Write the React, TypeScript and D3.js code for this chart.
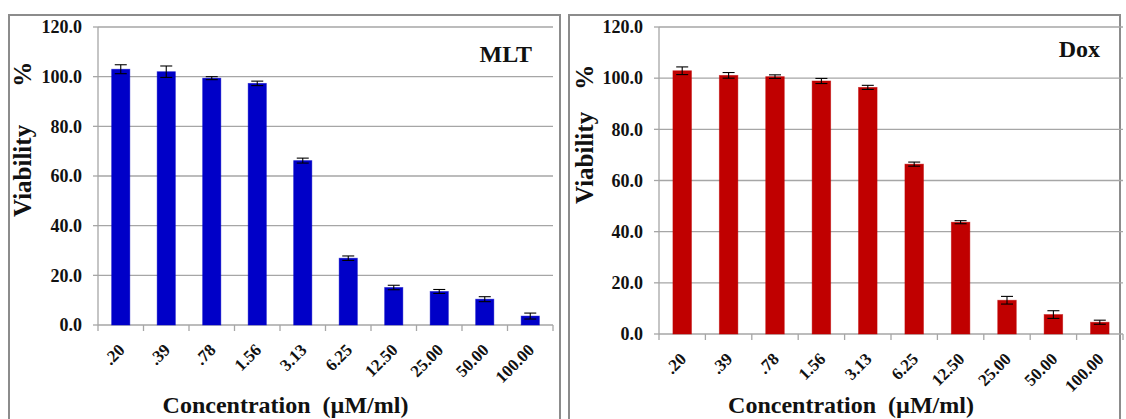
import React from "react";
import * as d3 from "d3";

const categories = [".20", ".39", ".78", "1.56", "3.13", "6.25", "12.50", "25.00", "50.00", "100.00"];
const mltValues = [103.0, 102.0, 99.4, 97.3, 66.2, 26.9, 15.1, 13.5, 10.4, 3.6];
const mltErrors = [1.8, 2.3, 0.6, 0.9, 1.0, 0.9, 0.9, 0.8, 1.0, 1.2];
const doxValues = [102.9, 101.1, 100.6, 98.9, 96.4, 66.4, 43.7, 13.2, 7.6, 4.6];
const doxErrors = [1.5, 1.1, 0.7, 1.0, 0.8, 0.8, 0.6, 1.5, 1.5, 0.8];
const yTicks = [0, 20, 40, 60, 80, 100, 120];

const FONT = "'Liberation Serif', 'Times New Roman', serif";
const GRID = "#a6a6a6";

type PanelProps = {
  values: number[];
  errors: number[];
  color: string;
  label: string;
  x0: number;
  x1: number;
  yZero: number;
  yTop: number;
  labelX: number;
  labelY: number;
  vTitleX: number;
  vTitleY: number;
  vGap: number;
  frameX: number;
};

function Panel(p: PanelProps) {
  const x = d3.scaleBand<string>().domain(categories).range([p.x0, p.x1]).paddingInner(0.6).paddingOuter(0.3);
  const band = d3.scaleBand<string>().domain(categories).range([p.x0, p.x1]);
  const y = d3.scaleLinear().domain([0, 120]).range([p.yZero, p.yTop]);
  const bw = x.bandwidth();
  const cap = 6;
  return (
    <g>
      <rect x={p.frameX} y={15} width={551} height={420} fill="none" stroke="#8c8c8c" strokeWidth={2} />
      {yTicks.map((t) => (
        <g key={t}>
          {t > 0 && <line x1={p.x0} x2={p.x1} y1={y(t)} y2={y(t)} stroke={GRID} strokeWidth={1.3} />}
          <line x1={p.x0 - 5} x2={p.x0} y1={y(t)} y2={y(t)} stroke={GRID} strokeWidth={1.3} />
          <text x={p.x0 - 16} y={y(t)} dy="0.35em" textAnchor="end" fontFamily={FONT} fontWeight="bold" fontSize={18} fill="#111">
            {t.toFixed(1)}
          </text>
        </g>
      ))}
      <line x1={p.x0} x2={p.x0} y1={p.yTop} y2={p.yZero} stroke={GRID} strokeWidth={1.3} />
      <line x1={p.x0} x2={p.x1} y1={p.yZero} y2={p.yZero} stroke={GRID} strokeWidth={1.3} />
      {categories.map((c, i) => (
        <line key={"tk" + i} x1={band(c)!} x2={band(c)!} y1={p.yZero} y2={p.yZero + 6} stroke={GRID} strokeWidth={1.3} />
      ))}
      <line x1={p.x1} x2={p.x1} y1={p.yZero} y2={p.yZero + 6} stroke={GRID} strokeWidth={1.3} />
      {categories.map((c, i) => {
        const cx = x(c)! + bw / 2;
        const v = p.values[i];
        const e = p.errors[i];
        return (
          <g key={"b" + i}>
            <rect x={x(c)!} y={y(v)} width={bw} height={p.yZero - y(v)} fill={p.color} stroke={p.color} strokeOpacity={0.55} strokeWidth={0.8} />
            <line x1={cx} x2={cx} y1={y(v + e)} y2={y(v - e)} stroke="#000" strokeWidth={1.1} />
            <line x1={cx - cap} x2={cx + cap} y1={y(v + e)} y2={y(v + e)} stroke="#000" strokeWidth={1.1} />
            <line x1={cx - cap} x2={cx + cap} y1={y(v - e)} y2={y(v - e)} stroke="#000" strokeWidth={1.1} />
            <text
              transform={`translate(${cx + 5},${p.yZero + 26}) rotate(-45)`}
              textAnchor="end"
              fontFamily={FONT}
              fontWeight="bold"
              fontSize={17}
              fill="#111"
            >
              {c}
            </text>
          </g>
        );
      })}
      <text x={p.labelX} y={p.labelY} textAnchor="end" fontFamily={FONT} fontWeight="bold" fontSize={24} fill="#111">
        {p.label}
      </text>
      <text
        transform={`translate(${p.vTitleX},${p.vTitleY}) rotate(-90)`}
        fontFamily={FONT}
        fontWeight="bold"
        fontSize={25}
        fill="#111"
      >
        <tspan>Viability</tspan>
        <tspan dx={p.vGap}>%</tspan>
      </text>
      <text
        x={(p.x0 + p.x1) / 2 - 40}
        y={413}
        textAnchor="middle"
        fontFamily={FONT}
        fontWeight="bold"
        fontSize={24}
        fill="#111"
        style={{ whiteSpace: "pre" }}
      >
        {"Concentration  (µM/ml)"}
      </text>
    </g>
  );
}

export default function App() {
  return (
    <svg width={1126} height={419} style={{ position: "absolute", left: 0, top: 0, background: "#fff" }}>
      <rect x={0} y={0} width={1126} height={419} fill="#fff" />
      <Panel
        values={mltValues}
        errors={mltErrors}
        color="#0000c8"
        label="MLT"
        x0={98}
        x1={553}
        yZero={325}
        yTop={27}
        labelX={532}
        labelY={62}
        vTitleX={31}
        vTitleY={217}
        vGap={38}
        frameX={9}
      />
      <Panel
        values={doxValues}
        errors={doxErrors}
        color="#c00000"
        label="Dox"
        x0={659}
        x1={1123}
        yZero={334}
        yTop={27}
        labelX={1100}
        labelY={57}
        vTitleX={593}
        vTitleY={204}
        vGap={22}
        frameX={569}
      />
    </svg>
  );
}
